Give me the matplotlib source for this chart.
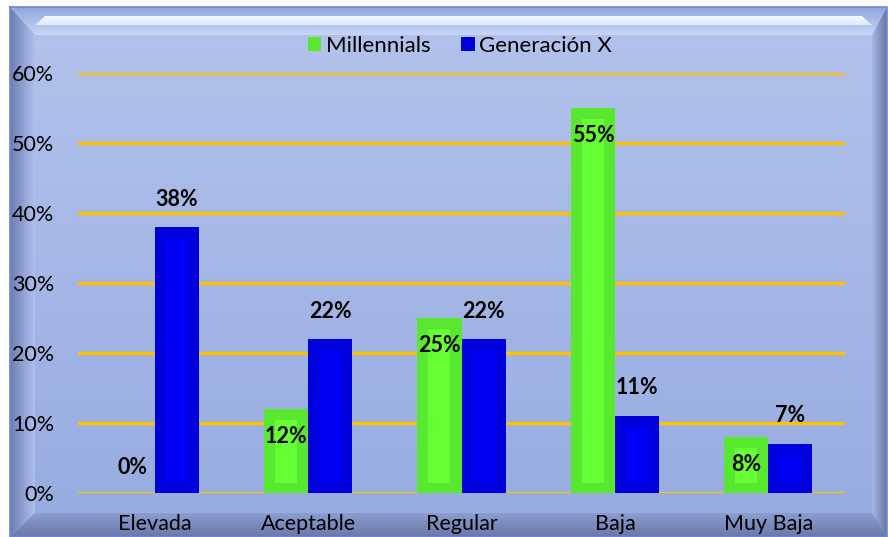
import numpy as np
import matplotlib
matplotlib.use('Agg')
import matplotlib.pyplot as plt
from matplotlib.patches import Polygon, Patch

plt.rcParams['font.family'] = ['Lato', 'DejaVu Sans']

# Data
categories = ['Elevada', 'Aceptable', 'Regular', 'Baja', 'Muy Baja']
millennials = [0, 12, 25, 55, 8]
gen_x = [38, 22, 22, 11, 7]
series_names = ['Millennials', 'Generación X']
yticks = [0, 10, 20, 30, 40, 50, 60]

W, H = 888, 537
fig = plt.figure(figsize=(W / 100, H / 100), dpi=100)

# background frame drawn in pixel coordinates
bg = fig.add_axes([0, 0, 1, 1])
bg.set_xlim(0, W)
bg.set_ylim(H, 0)
bg.axis('off')


def grad_fill(poly, c1, c2, vertical=True):
    p = Polygon(poly, closed=True, facecolor='none', edgecolor='none')
    bg.add_patch(p)
    c1 = np.array(matplotlib.colors.to_rgb(c1))
    c2 = np.array(matplotlib.colors.to_rgb(c2))
    t = np.linspace(0, 1, 256)
    col = c1[None, :] * (1 - t[:, None]) + c2[None, :] * t[:, None]
    if vertical:
        img = col[:, None, :]
    else:
        img = col[None, :, :]
    xs = [q[0] for q in poly]
    ys = [q[1] for q in poly]
    im = bg.imshow(img, extent=(min(xs), max(xs), max(ys), min(ys)),
                   aspect='auto', interpolation='bilinear')
    im.set_clip_path(p)


x0, y0, x1, y1 = 10, 7, 887, 537
ix0, iy0, ix1, iy1 = 35, 35, 872, 513
grad_fill([(x0, y0), (x1, y0), (x1, y1), (x0, y1)], '#b3c3ec', '#96abe0')
grad_fill([(x0, y0), (x1, y0), (ix1, iy0), (ix0, iy0)], '#8ea6dc', '#c8d6f6')
grad_fill([(ix0 + 10, 16), (ix1 - 10, 16), (ix1, 25), (ix0, 25)], '#f4f9ff', '#dfeaff')
grad_fill([(x0, y0), (ix0, iy0), (ix0, iy1), (x0, y1)], '#6c7db4', '#b3c3ee', vertical=False)
grad_fill([(x1, y0), (x1, y1), (ix1, iy1), (ix1, iy0)], '#a8b8e6', '#66769f', vertical=False)
grad_fill([(x0, y1), (ix0, iy1), (ix1, iy1), (x1, y1)], '#8c9dd0', '#6a78a8')
bg.plot([x0, x1, x1, x0, x0], [y0, y0, y1, y1, y0], color='#6f88c8', lw=1.2)

# main chart
ax = fig.add_axes([78 / W, 1 - 493 / H, (845 - 78) / W, (493 - 73) / H])
ax.patch.set_alpha(0)
for s in ax.spines.values():
    s.set_visible(False)

x = np.arange(len(categories))
bw = 0.287
green_out, green_in = '#58e830', '#66ff33'
blue_out, blue_in = '#0000dd', '#0000f5'
inset = 1.5
fs = 15.5

for yv in yticks:
    ax.axhline(yv, color='#ffc000', lw=2.4, zorder=1)

for off, vals, co, ci in [(-bw / 2, millennials, green_out, green_in),
                          (bw / 2, gen_x, blue_out, blue_in)]:
    ax.bar(x + off, vals, width=bw, color=co, zorder=2)
    inner_h = [max(v - 2 * inset, 0) for v in vals]
    ax.bar(x + off, inner_h, width=bw / 2, bottom=inset, color=ci, zorder=3)

for xi, v in zip(x, millennials):
    ty = v - 3.9 if v > 0 else v + 3.7
    ax.text(xi - bw / 2, ty, f'{v}%', ha='center', va='center',
            fontsize=fs, fontweight='bold', zorder=5)
for xi, v in zip(x, gen_x):
    ax.text(xi + bw / 2, v + 4.0, f'{v}%', ha='center', va='center',
            fontsize=fs, fontweight='bold', zorder=5)

ax.set_xlim(-0.5, len(categories) - 0.5)
ax.set_ylim(0, 60)
ax.set_yticks(yticks)
ax.set_yticklabels([f'{t}%' for t in yticks], fontsize=fs)
ax.set_xticks(x)
ax.set_xticklabels(categories, fontsize=fs)
ax.tick_params(axis='y', length=0, pad=17)
ax.tick_params(axis='x', length=0, pad=15)

handles = [Patch(facecolor=green_out, edgecolor='none'),
           Patch(facecolor=blue_out, edgecolor='none')]
fig.legend(handles, series_names, loc='center', bbox_to_anchor=(460 / W, 1 - 46 / H),
           ncol=2, frameon=False, fontsize=16, handlelength=0.6, handleheight=0.6,
           handletextpad=0.2, columnspacing=1.4)

fig.savefig('out.png', dpi=100)
